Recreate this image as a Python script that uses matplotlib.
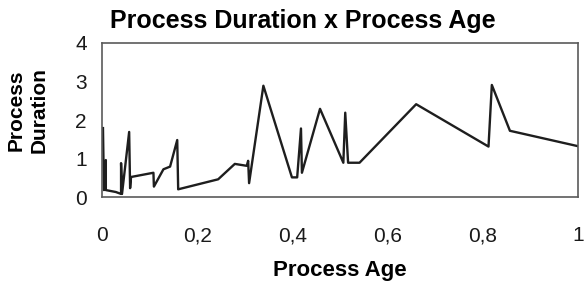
import matplotlib
matplotlib.use("Agg")
import matplotlib.pyplot as plt

# Process age vs. process duration
process_age = [0.002, 0.004, 0.008, 0.008, 0.029, 0.040, 0.040, 0.042, 0.057, 0.059,
               0.061, 0.108, 0.109, 0.129, 0.143, 0.158, 0.160, 0.244, 0.279, 0.304,
               0.307, 0.309, 0.339, 0.399, 0.410, 0.418, 0.420, 0.458, 0.507, 0.511,
               0.517, 0.541, 0.660, 0.812, 0.819, 0.857, 1.000]
process_duration = [1.79, 0.18, 0.96, 0.18, 0.13, 0.08, 0.88, 0.08, 1.69, 0.23,
                    0.52, 0.63, 0.27, 0.72, 0.79, 1.48, 0.20, 0.46, 0.86, 0.81,
                    0.94, 0.36, 2.89, 0.51, 0.51, 1.78, 0.63, 2.29, 0.89, 2.19,
                    0.89, 0.89, 2.41, 1.31, 2.91, 1.72, 1.32]

x_ticks = [0, 0.2, 0.4, 0.6, 0.8, 1]
x_tick_labels = ['0', '0,2', '0,4', '0,6', '0,8', '1']
y_ticks = [0, 1, 2, 3, 4]

plt.rcParams['font.family'] = ['Liberation Sans', 'DejaVu Sans']

fig = plt.figure(figsize=(5.84, 2.84), dpi=100)
ax = fig.add_axes([0.1747, 0.3063, 0.815, 0.5423])

ax.plot(process_age, process_duration, color='#1e1e1e', linewidth=1.7)

ax.set_xlim(0, 1)
ax.set_ylim(0, 4)
ax.set_xticks(x_ticks)
ax.set_xticklabels(x_tick_labels)
ax.set_yticks(y_ticks)
ax.tick_params(axis='both', length=0, labelsize=15, colors='#1a1a1a')
ax.tick_params(axis='x', pad=21)
ax.tick_params(axis='y', pad=11)
for sp in ax.spines.values():
    sp.set_color('#5a5a5a')
    sp.set_linewidth(1.2)

ax.set_xlabel('Process Age', fontsize=16, fontweight='bold', labelpad=11)
fig.text(0.047, 0.613, 'Process\nDuration', rotation=90, ha='center', va='center',
         fontsize=15, fontweight='bold', linespacing=1.25)
fig.suptitle('Process Duration x Process Age', x=0.519, y=0.925, va='center',
             fontsize=18, fontweight='bold')

fig.savefig('out.png', dpi=100)
